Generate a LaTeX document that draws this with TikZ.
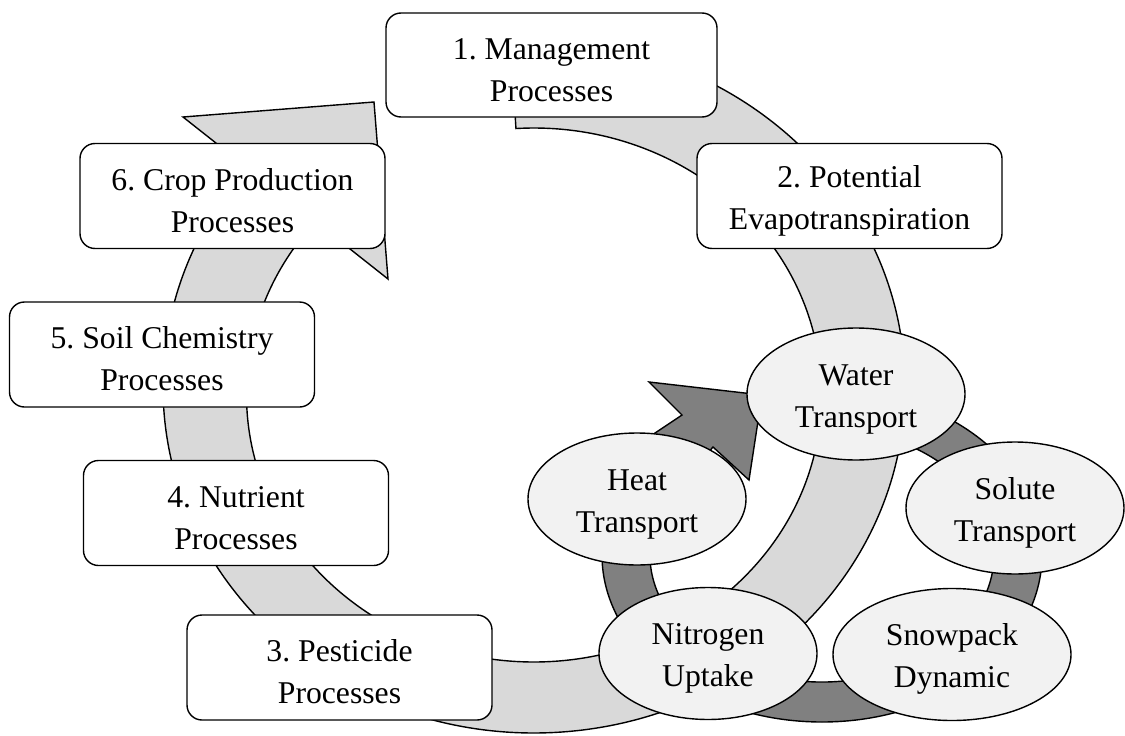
\documentclass[tikz,border=0pt]{standalone}
\usepackage{fontspec}
\setmainfont{Liberation Serif}
\usetikzlibrary{calc,shapes.geometric}
\definecolor{lightband}{HTML}{D9D9D9}
\definecolor{darkband}{HTML}{808080}
\definecolor{ellfill}{HTML}{F2F2F2}
% raises the first text line so that two-line labels sit a little lower
\newcommand\lblstrut{\rule{0pt}{31pt}}
\frenchspacing
\begin{document}
\begin{tikzpicture}[x=1pt,y=1pt,yscale=-1,
  lbl/.style={font=\fontsize{31.7}{42}\selectfont, align=center, text=black},
  procbox/.style={lbl, draw=black, line width=1.4pt, fill=white, rounded corners=15pt,
                  minimum width=305pt, minimum height=105pt, inner sep=0pt},
  subproc/.style={lbl, ellipse, draw=black, line width=1.4pt, fill=ellfill,
                  minimum width=218pt, minimum height=132pt, inner sep=0pt},
  ringlight/.style={draw=black, line width=1.4pt, fill=lightband},
  ringdark/.style={draw=black, line width=1.4pt, fill=darkband}]

\useasboundingbox (0,0) rectangle (1125,736);

% large outer cycle arrow: outer edge centred on LO, inner edge on LI
\coordinate (LO) at (534,387);
\coordinate (LI) at (534,395);
\draw[ringlight]
  ($(LO)+(-93.6:371 and 346)$)
  arc[start angle=-93.6, end angle=219.35, x radius=371, y radius=346]
  -- (183,117) -- (374,102) -- (388,279)
  -- ($(LI)+(220.5:287.5 and 267)$)
  arc[start angle=220.5, end angle=-93.6, x radius=287.5, y radius=267]
  -- cycle;

% process boxes
\node[procbox, minimum width=331pt, minimum height=104pt] (m1) at (551.5,65) {\lblstrut 1. Management\\Processes};
\node[procbox] (m2) at (849.5,196) {\lblstrut 2. Potential\\Evapotranspiration};
\node[procbox] (m3) at (339.5,667.5) {\lblstrut 3. Pesticide\\Processes};
\node[procbox] (m4) at (236,513) {\lblstrut 4. Nutrient\\Processes};
\node[procbox] (m5) at (162,354.5) {\lblstrut 5. Soil Chemistry\\Processes};
\node[procbox] (m6) at (232.5,196) {\lblstrut 6. Crop Production\\Processes};

% small inner cycle arrow (centre DC)
\coordinate (DC) at (822,555);
\draw[ringdark]
  ($(DC)+(-90:220 and 167)$)
  arc[start angle=-90, end angle=212, x radius=220, y radius=167]
  -- (652,435) -- (682,415) -- (649,382) -- (762,395) -- (749,480) -- (713,447)
  -- ($(DC)+(205:172 and 127)$)
  arc[start angle=205, end angle=-90, x radius=172, y radius=127]
  -- cycle;

% transport sub-processes
\node[subproc] (water) at (856,394) {\lblstrut Water\\Transport};
\node[subproc] (heat) at (637,499) {\lblstrut Heat\\Transport};
\node[subproc] (solute) at (1015,508) {\lblstrut Solute\\Transport};
\node[subproc, minimum width=238pt] (snow) at (952,654.5) {\lblstrut Snowpack\\Dynamic};
\node[subproc] (nitro) at (708,653.5) {\lblstrut Nitrogen\\Uptake};

\end{tikzpicture}
\end{document}
